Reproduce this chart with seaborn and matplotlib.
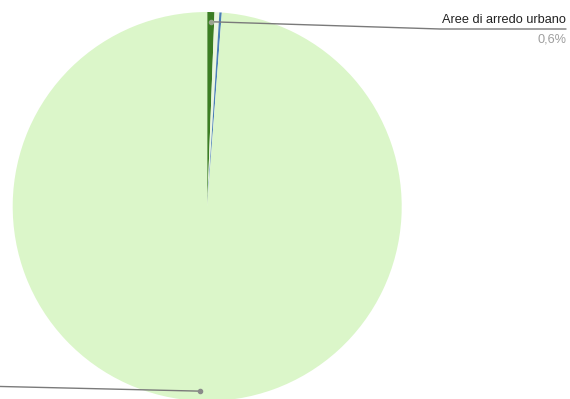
import numpy as np
import matplotlib
matplotlib.use("Agg")
import matplotlib.pyplot as plt
import seaborn as sns

# slice data (percent), clockwise from 12 o'clock
categories = ["Aree di arredo urbano", "Altro", "Aree verdi minori", "Verde pubblico"]
shares = [0.6, 0.4, 0.2, 98.8]
colors = ["#3b7d23", "#e9f6de", "#4a7fb6", "#dbf6c9"]
label_text = "Aree di arredo urbano"
label_pct = "0,6%"

sns.set_theme(style="white")
plt.rcParams["font.family"] = ["Liberation Sans", "DejaVu Sans"]

W, H = 570, 399
cx, cy, R = 207.2, 206.5, 194.5  # pie centre / radius in pixels

fig = plt.figure(figsize=(W / 100, H / 100), dpi=100)
ax = fig.add_axes([(cx - R) / W, (H - cy - R) / H, 2 * R / W, 2 * R / H])

wedges, _ = ax.pie(shares, colors=colors, startangle=90, counterclock=False,
                   radius=1, wedgeprops=dict(linewidth=0))
ax.set_xlim(-1, 1)
ax.set_ylim(-1, 1)
ax.set_aspect("equal")
ax.axis("off")


def px(x, y):
    # pixel position -> axes data units
    return (x - cx) / R, (cy - y) / R


def anchor(w, r=0.95):
    a = np.deg2rad((w.theta1 + w.theta2) / 2)
    return r * np.cos(a), r * np.sin(a)


line_kw = dict(color="#7a7a7a", lw=1.0, clip_on=False, zorder=5)

# top label (dark green slice)
ax0, ay0 = anchor(wedges[0])
kx, ky = px(440, 29)
ex, ey = px(566, 29)
ax.plot([ax0, kx, ex], [ay0, ky, ey], **line_kw)
ax.plot(ax0, ay0, "o", ms=3, color="#9aa58f", zorder=6, clip_on=False)
tx, ty = px(566, 20)
ax.text(tx, ty, label_text, ha="right", va="center", fontsize=9.2,
        color="#222222", clip_on=False)
tx, ty = px(566, 39)
ax.text(tx, ty, label_pct, ha="right", va="center", fontsize=9.2,
        color="#9e9e9e", clip_on=False)

# bottom label (large slice), text is off canvas to the left
bx, by = anchor(wedges[3])
lx, ly = px(-20, 386)
ax.plot([bx, lx], [by, ly], **line_kw)
ax.plot(bx, by, "o", ms=3, color="#8a8a8a", zorder=6, clip_on=False)

fig.savefig("out.png", dpi=100, facecolor="white")
